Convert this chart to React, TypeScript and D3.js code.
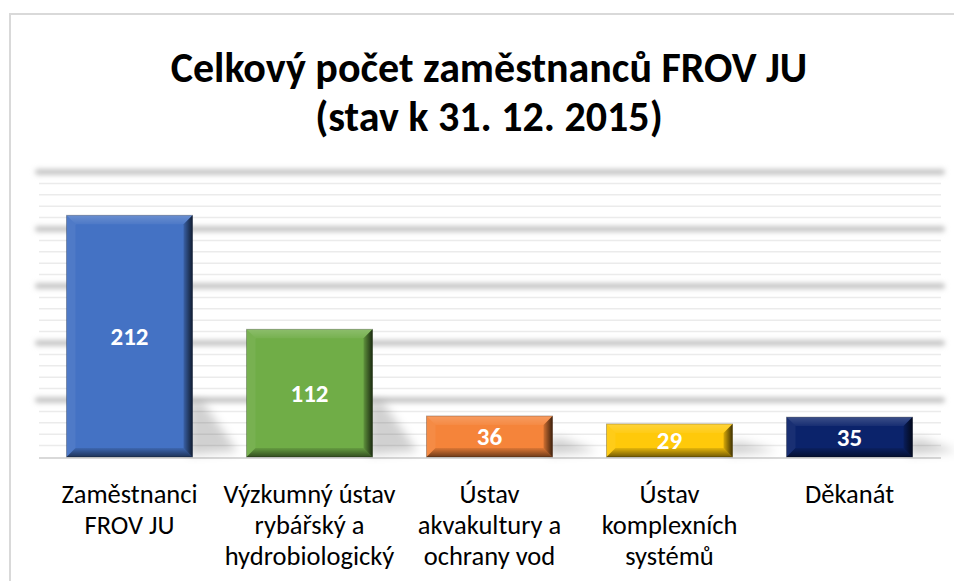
import React from "react";
import * as d3 from "d3";

const categories: string[][] = [
  ["Zaměstnanci", "FROV JU"],
  ["Výzkumný ústav", "rybářský a", "hydrobiologický"],
  ["Ústav", "akvakultury a", "ochrany vod"],
  ["Ústav", "komplexních", "systémů"],
  ["Děkanát"],
];
const values: number[] = [212, 112, 36, 29, 35];
const colors: string[] = ["#4472C4", "#70AD47", "#F5843A", "#FFC90A", "#0B236B"];
const titleLines: string[] = ["Celkový počet zaměstnanců FROV JU", "(stav k 31. 12. 2015)"];
const majorTicks: number[] = [50, 100, 150, 200, 250];

const W = 954;
const H = 581;
const FONT = "Carlito, Lato, 'Open Sans', sans-serif";

export default function App() {
  const x = d3
    .scaleBand<number>()
    .domain(d3.range(values.length))
    .range([39.5, 939.5])
    .paddingInner(0.3)
    .paddingOuter(0.15);
  const y = d3.scaleLinear().domain([0, 250]).range([457, 172]);
  const minorTicks = d3.range(10, 250, 10).filter((v) => v % 50 !== 0);
  const bev = 9;

  return (
    <svg width={W} height={H} style={{ position: "absolute", left: 0, top: 0, background: "#fff" }}>
      <defs>
        <filter id="gblur" filterUnits="userSpaceOnUse" x="0" y="0" width={W} height={H}>
          <feGaussianBlur stdDeviation="2.4" />
        </filter>
        <filter id="sblur" filterUnits="userSpaceOnUse" x="0" y="0" width={W} height={H}>
          <feGaussianBlur stdDeviation="5" />
        </filter>
        <linearGradient id="darkR" x1="0" x2="1" y1="0" y2="0">
          <stop offset="0" stopColor="#000" stopOpacity="0.15" />
          <stop offset="1" stopColor="#000" stopOpacity="0.75" />
        </linearGradient>
        <linearGradient id="darkB" x1="0" x2="0" y1="0" y2="1">
          <stop offset="0" stopColor="#000" stopOpacity="0.1" />
          <stop offset="1" stopColor="#000" stopOpacity="0.55" />
        </linearGradient>
        <linearGradient id="lightT" x1="0" x2="0" y1="0" y2="1">
          <stop offset="0" stopColor="#fff" stopOpacity="0.2" />
          <stop offset="1" stopColor="#fff" stopOpacity="0.05" />
        </linearGradient>
      </defs>
      <rect x={0} y={0} width={W} height={H} fill="#fff" />
      {/* chart border */}
      <path d={`M10,${H} V14 H${W}`} fill="none" stroke="#d9d9d9" strokeWidth={2} />

      {/* title */}
      {titleLines.map((t, i) => (
        <text
          key={i}
          x={489}
          y={82 + i * 49}
          textAnchor="middle"
          fontFamily={FONT}
          fontWeight="bold"
          fontSize={42}
          fill="#000"
        >
          {t}
        </text>
      ))}

      {/* minor gridlines */}
      {minorTicks.map((v) => (
        <line key={v} x1={39} x2={941} y1={y(v)} y2={y(v)} stroke="#ebebeb" strokeWidth={1.5} />
      ))}
      {/* major gridlines (blurred) */}
      <g filter="url(#gblur)">
        {majorTicks.map((v) => (
          <line
            key={v}
            x1={38}
            x2={942}
            y1={y(v)}
            y2={y(v)}
            stroke="#c6c6c6"
            strokeWidth={6}
            strokeLinecap="round"
          />
        ))}
      </g>
      {/* baseline */}
      <line x1={39} x2={941} y1={y(0) + 1} y2={y(0) + 1} stroke="#d9d9d9" strokeWidth={2} />

      {/* shadows */}
      <g filter="url(#sblur)">
        {values.map((v, i) => {
          const x1 = (x(i) as number) + x.bandwidth();
          const y0 = y(0);
          const hs = Math.min((y(0) - y(v)) * 0.45, 55);
          return (
            <polygon
              key={i}
              points={`${x1 - 4},${y0 - hs} ${x1 + 10},${y0 - hs} ${x1 + 45},${y0 - 6} ${x1 - 4},${y0 - 2}`}
              fill="#000"
              opacity={0.18}
            />
          );
        })}
      </g>

      {/* bars */}
      {values.map((v, i) => {
        const x0 = x(i) as number;
        const w = x.bandwidth();
        const x1 = x0 + w;
        const y0 = y(v);
        const y1 = y(0);
        const b = Math.min(bev, (y1 - y0) / 2);
        return (
          <g key={i}>
            <rect x={x0} y={y0} width={w} height={y1 - y0} fill={colors[i]} />
            <polygon points={`${x0},${y0} ${x1},${y0} ${x1 - b},${y0 + b} ${x0 + b},${y0 + b}`} fill="url(#lightT)" />
            <polygon points={`${x0},${y0} ${x0 + b},${y0 + b} ${x0 + b},${y1 - b} ${x0},${y1}`} fill="#fff" opacity={0.06} />
            <polygon points={`${x1},${y0} ${x1},${y1} ${x1 - b},${y1 - b} ${x1 - b},${y0 + b}`} fill="url(#darkR)" />
            <polygon points={`${x0},${y1} ${x1},${y1} ${x1 - b},${y1 - b} ${x0 + b},${y1 - b}`} fill="url(#darkB)" />
            <rect x={x0} y={y0} width={w} height={y1 - y0} fill="none" stroke="#000" strokeOpacity={0.25} strokeWidth={1} />
            <text
              x={x0 + w / 2}
              y={(y0 + y1) / 2}
              dy="0.36em"
              textAnchor="middle"
              fontFamily={FONT}
              fontWeight="bold"
              fontSize={25}
              fill="#fff"
            >
              {v}
            </text>
          </g>
        );
      })}

      {/* category labels */}
      {categories.map((lines, i) => (
        <text
          key={i}
          x={(x(i) as number) + x.bandwidth() / 2}
          textAnchor="middle"
          fontFamily={FONT}
          fontSize={26.5}
          fill="#000"
        >
          {lines.map((l, j) => (
            <tspan key={j} x={(x(i) as number) + x.bandwidth() / 2} y={503 + j * 31}>
              {l}
            </tspan>
          ))}
        </text>
      ))}
    </svg>
  );
}
